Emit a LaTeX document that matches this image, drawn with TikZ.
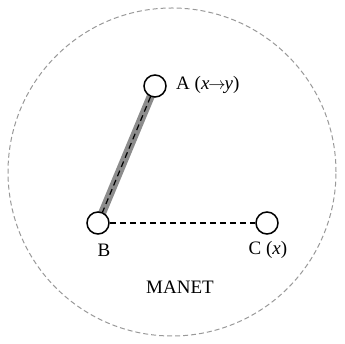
\documentclass[tikz,border=0pt]{standalone}
\usepackage{fontspec}
\setmainfont{Liberation Serif}
\begin{document}
\begin{tikzpicture}[x=1pt,y=1pt,
  host/.style={circle,draw,line width=1.5pt,minimum size=22pt,inner sep=0pt,fill=white},
  lbl/.style={font=\fontsize{19}{22}\selectfont,inner sep=0pt},
  link/.style={dashed,dash pattern=on 6pt off 4pt,line width=1.2pt}]
\useasboundingbox (0,0) rectangle (345,344);
\draw[black!40,dash pattern=on 5pt off 3pt,line width=1pt] (172,172) circle (164);
\coordinate (a0) at (155,258);
\coordinate (b0) at (98,121);
\draw[black!45,line width=8pt] (a0) -- (b0);
\node[host] (A) at (a0) {};
\node[host] (B) at (b0) {};
\node[host] (C) at (267,121) {};
\draw[link] (A) -- (B);
\draw[link] (B) -- (C);
\node[lbl,anchor=west] (la) at (176,259) {A (\textit{x}\kern-1pt$\rightarrow$\kern-1pt\textit{y})};
\node[lbl] (lb) at (104,94) {B};
\node[lbl] (lc) at (268,94) {C (\textit{x})};
\node[lbl] (lm) at (180,57) {MANET};
\end{tikzpicture}
\end{document}
